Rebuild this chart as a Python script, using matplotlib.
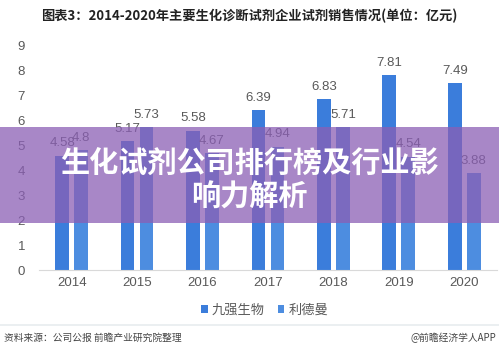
import matplotlib.pyplot as plt
import numpy as np

plt.rcParams['font.family'] = ['Liberation Sans', 'Noto Sans CJK SC', 'DejaVu Sans']

years = ['2014', '2015', '2016', '2017', '2018', '2019', '2020']
jiuqiang = [4.58, 5.17, 5.58, 6.39, 6.83, 7.81, 7.49]
lideman = [4.8, 5.73, 4.67, 4.94, 5.71, 4.54, 3.88]
series_names = ['九强生物', '利德曼']

title = '图表3：2014-2020年主要生化诊断试剂企业试剂销售情况(单位：亿元)'
source = '资料来源：公司公报 前瞻产业研究院整理'
brand = '@前瞻经济学人APP'
banner = '生化试剂公司排行榜及行业影\n响力解析'

c1 = '#3b7ddb'
c2 = '#4d8de0'
label_color = '#595959'
cjk = ['Noto Sans CJK SC', 'DejaVu Sans']

fig = plt.figure(figsize=(4.99, 3.53), dpi=100)
ax = fig.add_axes([0.078, 0.235, 0.918, 0.6374])

x = np.arange(len(years))
w = 0.21
off = 0.145
b1 = ax.bar(x - off, jiuqiang, w, color=c1, label=series_names[0])
b2 = ax.bar(x + off, lideman, w, color=c2, label=series_names[1])

for bars, vals in ((b1, jiuqiang), (b2, lideman)):
    for r, v in zip(bars, vals):
        ax.text(r.get_x() + r.get_width() / 2, v + 0.25, f'{v:g}',
                ha='center', va='bottom', fontsize=9.5, color=label_color)

ax.set_xlim(-0.5, 6.5)
ax.set_ylim(0, 9)
ax.set_yticks(range(10))
ax.set_xticks(x)
ax.set_xticklabels(years)
ax.tick_params(axis='both', length=0, labelsize=9.5, colors=label_color)
ax.tick_params(axis='y', pad=10)
ax.tick_params(axis='x', pad=5)
for s in ['top', 'right', 'left']:
    ax.spines[s].set_visible(False)
ax.spines['bottom'].set_color('#d9d9d9')

leg = fig.legend(loc='center', bbox_to_anchor=(0.53, 0.122), ncol=2, frameon=False,
                 prop={'family': cjk, 'size': 9.5}, handlelength=0.5, handleheight=0.5,
                 handletextpad=0.3, columnspacing=1.0)
for t in leg.get_texts():
    t.set_color(label_color)

fig.text(0.5, 0.955, title, ha='center', va='center', fontsize=9.5,
         fontweight='bold', color='#222222', family=cjk)

# footer
fig.add_artist(plt.Line2D([0, 1], [0.08, 0.08], color='#e8ecef', lw=1.2))
fig.text(0.008, 0.043, source, ha='left', va='center', fontsize=7, color='#444444', family=cjk)
fig.text(0.995, 0.043, brand, ha='right', va='center', fontsize=7, color='#444444', family=cjk)

# banner overlay
fig.add_artist(plt.Rectangle((0, 0.368), 1, 0.272, transform=fig.transFigure,
                             color='#8b5fb5', alpha=0.75, lw=0))
fig.text(0.5, 0.492, banner, ha='center', va='center', fontsize=21,
         fontweight='bold', color='white', linespacing=1.15, family=cjk)

fig.savefig('out.png', dpi=100)
